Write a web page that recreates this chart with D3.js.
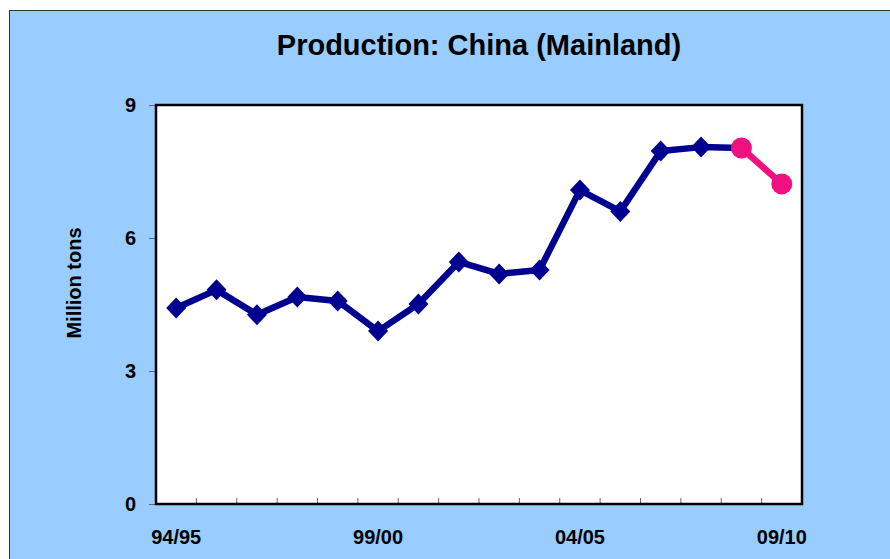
<!DOCTYPE html>
<html>
<head>
<meta charset="utf-8">
<script src="https://cdn.jsdelivr.net/npm/d3@7"></script>
<style>
  body { margin: 0; background: #fff; }
  text { font-family: "Liberation Sans", Arial, sans-serif; font-weight: bold; fill: #000; }
</style>
</head>
<body>
<div id="chart"></div>
<script>
// chart data
var seasons = ["94/95", "95/96", "96/97", "97/98", "98/99", "99/00", "00/01", "01/02",
               "02/03", "03/04", "04/05", "05/06", "06/07", "07/08", "08/09", "09/10"];
var actual = [4.42, 4.83, 4.27, 4.67, 4.58, 3.9, 4.51, 5.46, 5.19, 5.28, 7.08, 6.6, 7.96, 8.05];
var forecast = [8.03, 7.22];
var tickLabels = ["94/95", "99/00", "04/05", "09/10"];
var yTicks = [0, 3, 6, 9];

var svgWidth = 890;
var svgHeight = 559;

var svg = d3.select("#chart").append("svg")
    .attr("width", svgWidth)
    .attr("height", svgHeight);

// background frame
svg.append("rect")
    .attr("x", 9.5).attr("y", 10.5)
    .attr("width", 900).attr("height", 600)
    .attr("fill", "#99CCFF")
    .attr("stroke", "#333")
    .attr("stroke-width", 1);

var margin = { top: 105, left: 156, right: 88, bottom: 55 };
var width = svgWidth - margin.left - margin.right;
var height = svgHeight - margin.top - margin.bottom;

var g = svg.append("g")
    .attr("transform", `translate(${margin.left}, ${margin.top})`);

var x = d3.scaleBand().domain(seasons).range([0, width]);
var y = d3.scaleLinear().domain([0, 9]).range([height, 0]);

// plot area
g.append("rect")
    .attr("width", width).attr("height", height)
    .attr("fill", "#fff");

// y axis ticks (outside)
var leftAxis = d3.axisLeft(y).tickValues(yTicks).tickSize(7).tickPadding(13).tickFormat(d3.format("d"));
var leftAxisG = g.append("g").call(leftAxis);
leftAxisG.select(".domain").remove();
leftAxisG.selectAll("line").attr("stroke", "#666");
leftAxisG.selectAll("text").style("font-size", "20px");

// x axis: ticks between categories, inside
var boundaries = d3.range(1, seasons.length).map(i => x(seasons[i]));
g.selectAll(".xtick").data(boundaries)
  .enter().append("line")
    .attr("class", "xtick")
    .attr("x1", d => d).attr("x2", d => d)
    .attr("y1", height).attr("y2", height - 6)
    .attr("stroke", "#666");

g.selectAll(".xlabel").data(tickLabels)
  .enter().append("text")
    .attr("class", "xlabel")
    .attr("x", d => x(d) + x.bandwidth() / 2)
    .attr("y", height + 40)
    .attr("text-anchor", "middle")
    .style("font-size", "20px")
    .text(d => d);

// plot border
g.append("rect")
    .attr("width", width).attr("height", height)
    .attr("fill", "none")
    .attr("stroke", "#000")
    .attr("stroke-width", 2.5);

var cx = d => x(d) + x.bandwidth() / 2;

// actual series line, running into the first forecast point
var lineData = actual.map((v, i) => ({ s: seasons[i], v: v }));
lineData.push({ s: seasons[actual.length], v: forecast[0] });
var line = d3.line().x(d => cx(d.s)).y(d => y(d.v));

g.append("path")
    .datum(lineData)
    .attr("fill", "none")
    .attr("stroke", "#000090")
    .attr("stroke-width", 6.5)
    .attr("stroke-linejoin", "round")
    .attr("d", line);

// forecast series line
var fcData = forecast.map((v, i) => ({ s: seasons[actual.length + i], v: v }));
g.append("path")
    .datum(fcData)
    .attr("fill", "none")
    .attr("stroke", "#F0107F")
    .attr("stroke-width", 6.5)
    .attr("d", line);

// diamond markers
g.selectAll(".dia").data(lineData.slice(0, actual.length))
  .enter().append("path")
    .attr("class", "dia")
    .attr("transform", d => `translate(${cx(d.s)},${y(d.v)})`)
    .attr("d", "M0,-10.5L10,0L0,10.5L-10,0Z")
    .attr("fill", "#000090");

// circle markers
g.selectAll(".dot").data(fcData)
  .enter().append("circle")
    .attr("class", "dot")
    .attr("cx", d => cx(d.s))
    .attr("cy", d => y(d.v))
    .attr("r", 10.5)
    .attr("fill", "#F0107F");

// title
svg.append("text")
    .attr("x", 479).attr("y", 55)
    .attr("text-anchor", "middle")
    .style("font-size", "29px")
    .text("Production: China (Mainland)");

// y label
svg.append("text")
    .attr("transform", `translate(81, 283) rotate(-90)`)
    .attr("text-anchor", "middle")
    .style("font-size", "20px")
    .text("Million tons");
</script>
</body>
</html>
